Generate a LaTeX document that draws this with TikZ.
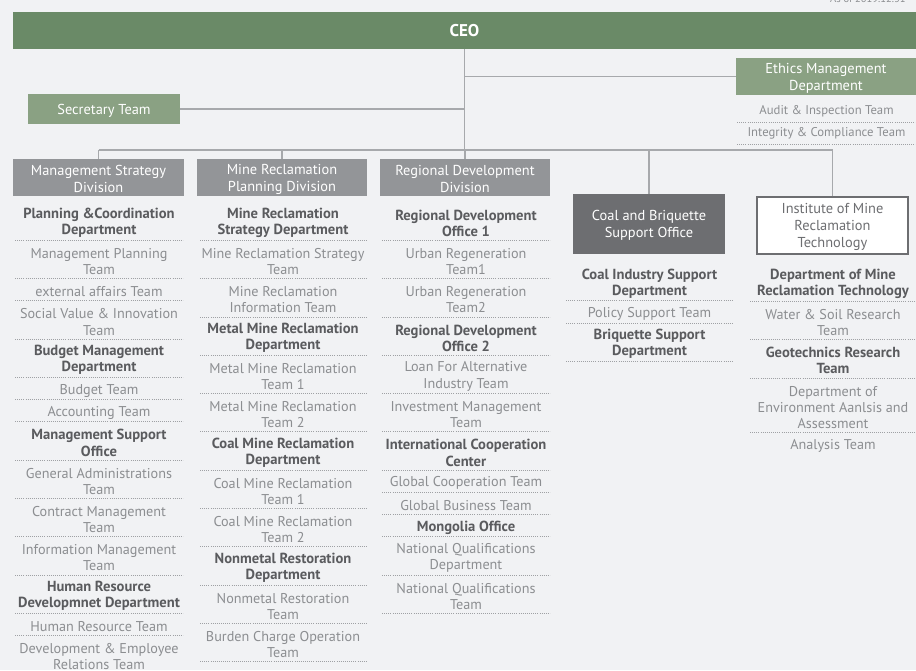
\documentclass[tikz,border=0pt]{standalone}
\usepackage{fontspec}
\setmainfont{PT Sans}
\usetikzlibrary{positioning}
\definecolor{bg}{HTML}{F1F2F4}
\definecolor{ceogreen}{HTML}{6A8A67}
\definecolor{lightgreen}{HTML}{8AA183}
\definecolor{divgray}{HTML}{939598}
\definecolor{darkgray}{HTML}{6D6E71}
\definecolor{linec}{HTML}{A7A9AC}
\definecolor{sepc}{HTML}{9FA1A4}
\definecolor{teamc}{HTML}{8C8E91}
\definecolor{deptc}{HTML}{5A5B5E}
\begin{document}
\begin{tikzpicture}[x=1pt,y=-1pt,
  % a zero-width strut beside the text block lowers the text a little in its box
  drop/.style={execute at begin node={\rule{0pt}{#1}}},
  headbox/.style={inner sep=0pt, align=center, text=white,
    font=\fontsize{14.4}{17}\selectfont},
  hb1/.style={drop=13.8pt},
  hb2/.style={drop=30.3pt},
  hb3/.style={drop=47.8pt},
  ceobar/.style={inner sep=0pt, text=white, fill=ceogreen,
    minimum width=903pt, minimum height=37pt,
    font=\bfseries\fontsize{17}{20}\selectfont},
  greenbox/.style={headbox, fill=lightgreen},
  divbox/.style={headbox, hb2, fill=divgray, minimum height=37pt},
  conn/.style={draw=linec, line width=1.5pt},
  sep/.style={draw=sepc, line width=0.8pt, dash pattern=on 0.8pt off 1.3pt},
  entry/.style={inner xsep=0pt, inner ysep=0pt, outer sep=0pt, align=center},
  team/.style={entry, text=teamc, font=\fontsize{14.2}{16.1}\selectfont},
  smallteam/.style={entry, text=teamc, minimum height=22pt,
    font=\fontsize{12.7}{15}\selectfont},
  dept/.style={entry, text=deptc, font=\bfseries\fontsize{14.6}{16.1}\selectfont},
  l1/.style={minimum height=22.2pt, drop=14.2pt},
  l2/.style={minimum height=38.3pt, drop=30.3pt},
  l3/.style={minimum height=54.4pt, drop=46.4pt},
  colA/.style={minimum width=168pt},
  colB/.style={minimum width=166pt},
  colC/.style={minimum width=168pt},
  colD/.style={minimum width=167pt},
  colE/.style={minimum width=166pt},
  colF/.style={minimum width=179pt},
  node distance=0pt]

\useasboundingbox[fill=bg] (0,0) rectangle (916,670);

% date line, cut by the top edge
\node[anchor=base west, inner sep=0pt, text=teamc, font=\fontsize{10.5}{12}\selectfont]
  (date) at (830,2) {As of 2019.12.31};

% top level
\node[ceobar] (ceo) at (464.5,30.5) {CEO};
\node[greenbox, hb2, minimum width=180pt, minimum height=37pt] (eth) at (826,76.5)
  {Ethics Management\\Department};
\node[greenbox, hb1, minimum width=152pt, minimum height=30pt] (sec) at (104,109)
  {Secretary Team};

% divisions and offices
\node[divbox, minimum width=171pt] (div1) at (98.5,177.5) {Management Strategy\\Division};
\node[divbox, minimum width=170pt] (div2) at (282,177.5) {Mine Reclamation\\Planning Division};
\node[divbox, minimum width=170pt] (div3) at (465,177.5) {Regional Development\\Division};
\node[headbox, hb2, fill=darkgray, minimum width=152pt, minimum height=60pt] (coal) at (649,224)
  {Coal and Briquette\\Support Office};
\node[headbox, hb3, fill=white, draw=darkgray, line width=1.2pt, text=darkgray,
  minimum width=151pt, minimum height=57pt] (inst) at (832.5,225.5)
  {Institute of Mine\\Reclamation\\Technology};

% connectors
\coordinate (hub) at (464.5,150);
\coordinate (busL) at (98.5,150);
\coordinate (busR) at (832.5,150);
\draw[conn] (ceo.south) -- (hub);
\draw[conn] (eth.west) -- (eth.west -| hub);
\draw[conn] (sec.east) -- (sec.east -| hub);
\draw[conn] (busL) -- (busR);
\draw[conn] (div1.north) -- (div1.north |- busL);
\draw[conn] (div2.north) -- (div2.north |- busL);
\draw[conn] (div3.north) -- (div3.north |- busL);
\draw[conn] (coal.north) -- (coal.north |- busL);
\draw[conn] (inst.north) -- (inst.north |- busL);

% ethics teams
\node[smallteam, colF, anchor=north] (f1) at (826.5,100) {Audit \& Inspection Team};
\node[smallteam, colF, below=of f1] (f2) {Integrity \& Compliance Team};

% management strategy division
\node[dept, colA, l2, anchor=north] (a1) at (99,202) {Planning \&Coordination\\Department};
\node[team, colA, l2, below=of a1] (a2) {Management Planning\\Team};
\node[team, colA, l1, below=of a2] (a3) {external affairs Team};
\node[team, colA, l2, below=of a3] (a4) {Social Value \& Innovation\\Team};
\node[dept, colA, l2, below=of a4] (a5) {Budget Management\\Department};
\node[team, colA, l1, below=of a5] (a6) {Budget Team};
\node[team, colA, l1, below=of a6] (a7) {Accounting Team};
\node[dept, colA, l2, below=of a7] (a8) {Management Support\\Office};
\node[team, colA, l2, below=of a8] (a9) {General Administrations\\Team};
\node[team, colA, l2, below=of a9] (a10) {Contract Management\\Team};
\node[team, colA, l2, below=of a10] (a11) {Information Management\\Team};
\node[dept, colA, l2, below=of a11] (a12) {Human Resource\\Developmnet Department};
\node[team, colA, l1, below=of a12] (a13) {Human Resource Team};
\node[team, colA, l2, below=of a13] (a14) {Development \& Employee\\Relations Team};

% mine reclamation planning division
\node[dept, colB, l2, anchor=north] (b1) at (283,202) {Mine Reclamation\\Strategy Department};
\node[team, colB, l2, below=of b1] (b2) {Mine Reclamation Strategy\\Team};
\node[team, colB, l2, below=of b2] (b3) {Mine Reclamation\\Information Team};
\node[dept, colB, l2, below=of b3] (b4) {Metal Mine Reclamation\\Department};
\node[team, colB, l2, below=of b4] (b5) {Metal Mine Reclamation\\Team 1};
\node[team, colB, l2, below=of b5] (b6) {Metal Mine Reclamation\\Team 2};
\node[dept, colB, l2, below=of b6] (b7) {Coal Mine Reclamation\\Department};
\node[team, colB, l2, below=of b7] (b8) {Coal Mine Reclamation\\Team 1};
\node[team, colB, l2, below=of b8] (b9) {Coal Mine Reclamation\\Team 2};
\node[dept, colB, l2, below=of b9] (b10) {Nonmetal Restoration\\Department};
\node[team, colB, l2, below=of b10] (b11) {Nonmetal Restoration\\Team};
\node[team, colB, l2, below=of b11] (b12) {Burden Charge Operation\\Team};

% regional development division
\node[dept, colC, l2, anchor=north] (c1) at (466,202) {Regional Development\\Office 1};
\node[team, colC, l2, below=of c1] (c2) {Urban Regeneration\\Team1};
\node[team, colC, l2, below=of c2] (c3) {Urban Regeneration\\Team2};
\node[dept, colC, l2, below=of c3] (c4) {Regional Development\\Office 2};
\node[team, colC, l2, below=of c4] (c5) {Loan For Alternative\\Industry Team};
\node[team, colC, l2, below=of c5] (c6) {Investment Management\\Team};
\node[dept, colC, l2, below=of c6] (c7) {International Cooperation\\Center};
\node[team, colC, l1, below=of c7] (c8) {Global Cooperation Team};
\node[team, colC, l1, below=of c8] (c9) {Global Business Team};
\node[dept, colC, l1, below=of c9] (c10) {Mongolia Office};
\node[team, colC, l2, below=of c10] (c11) {National Qualifications\\Department};
\node[team, colC, l2, below=of c11] (c12) {National Qualifications\\Team};

% coal and briquette support office
\node[dept, colD, l2, anchor=north] (d1) at (649.5,262.5) {Coal Industry Support\\Department};
\node[team, colD, l1, below=of d1] (d2) {Policy Support Team};
\node[dept, colD, l2, below=of d2] (d3) {Briquette Support\\Department};

% institute of mine reclamation technology
\node[dept, colE, l2, anchor=north] (e1) at (833,263) {Department of Mine\\Reclamation Technology};
\node[team, colE, l2, below=of e1] (e2) {Water \& Soil Research\\Team};
\node[dept, colE, l2, below=of e2] (e3) {Geotechnics Research\\Team};
\node[team, colE, l3, below=of e3] (e4) {Department of\\Environment Aanlsis and\\Assessment};
\node[team, colE, l1, below=of e4] (e5) {Analysis Team};

% dotted rules under the entries
\foreach \n in {f1,f2,
    a1,a2,a3,a4,a5,a6,a7,a8,a9,a10,a11,a12,a13,a14,
    b1,b2,b3,b4,b5,b6,b7,b8,b9,b10,b11,b12,
    c1,c2,c3,c4,c5,c6,c7,c8,c9,c10,c11,c12,
    d1,d2,d3,e1,e2,e3,e4}
  \draw[sep] (\n.south west) -- (\n.south east);
\end{tikzpicture}
\end{document}
